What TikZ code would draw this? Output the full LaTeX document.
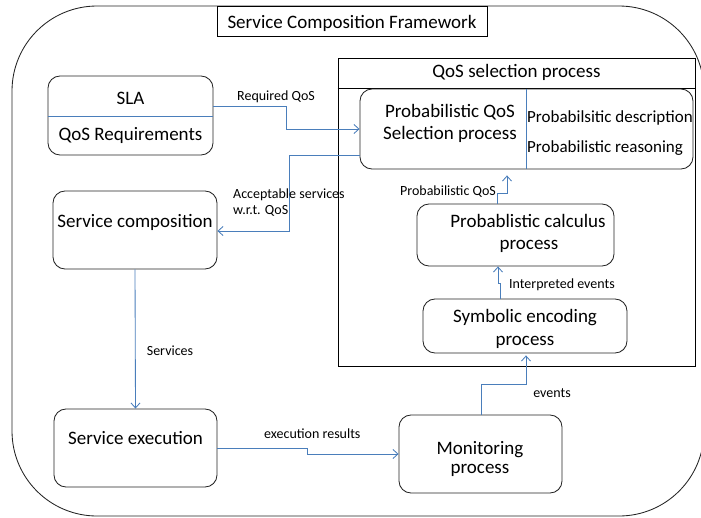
\documentclass[tikz,border=0pt]{standalone}
\usepackage{fontspec}
\setmainfont{Carlito}
\usetikzlibrary{arrows.meta}
\definecolor{flowblue}{RGB}{74,126,187}
\definecolor{edgegray}{RGB}{35,35,35}
\tikzset{
  rbox/.style={draw=edgegray, line width=0.85pt, rounded corners=12pt, inner sep=0pt},
  sbox/.style={draw=black, line width=0.85pt, inner sep=0pt},
  bigtxt/.style={font=\fontsize{19}{22}\selectfont, anchor=base, inner sep=0pt},
  midtxt/.style={font=\fontsize{17}{20}\selectfont, anchor=base west, inner sep=0pt},
  smalltxt/.style={font=\fontsize{14}{16}\selectfont, anchor=base, inner sep=0pt},
  flow/.style={draw=flowblue, line width=0.85pt, -{Straight Barb[length=5pt,width=9pt]}},
}
\begin{document}
\begin{tikzpicture}[x=1pt,y=-1pt]
\useasboundingbox (0,0) rectangle (701,517);
% outer frame
\draw[edgegray, line width=0.85pt, rounded corners=85pt] (12,6) rectangle (704,516);
% title
\node[sbox, fill=white, minimum width=270pt, minimum height=30pt] (title) at (352,21) {};
\node[bigtxt] (titletxt) at (352,28) {Service Composition Framework};
% QoS selection process container
\node[sbox, minimum width=357pt, minimum height=308pt] (qos) at (516.5,212) {};
\draw[black, line width=0.85pt] (qos.west |- 0,88) -- (qos.east |- 0,88);
\node[bigtxt] (qostxt) at (516.5,77) {QoS selection process};
% boxes
\node[rbox, minimum width=165pt, minimum height=79pt] (sla) at (130.5,115.5) {};
\draw[flowblue, line width=0.85pt] (sla.west |- 0,116) -- (sla.east |- 0,116);
\node[bigtxt] (slatxt) at (130.5,104) {SLA};
\node[bigtxt] (qosreq) at (130.5,140) {QoS Requirements};

\node[rbox, minimum width=333pt, minimum height=80pt] (pq) at (526.5,129) {};
\draw[flowblue, line width=0.85pt] (pq.north -| 526,0) -- (pq.south -| 526,0);
\node[bigtxt] (pq1) at (450,117) {Probabilistic QoS};
\node[bigtxt] (pq2) at (450,139) {Selection process};
\node[midtxt] (pq3) at (527,122) {Probabilsitic description};
\node[midtxt] (pq4) at (527,152) {Probabilistic reasoning};

\node[rbox, minimum width=197pt, minimum height=62pt] (pc) at (515.5,235) {};
\node[bigtxt] (pc1) at (528,227) {Probablistic calculus};
\node[bigtxt] (pc2) at (529,249) {process};

\node[rbox, minimum width=204pt, minimum height=54pt] (se) at (525,326) {};
\node[bigtxt] (se1) at (525,322) {Symbolic encoding};
\node[bigtxt] (se2) at (525,345) {process};

\node[rbox, minimum width=164pt, minimum height=78pt] (sc) at (135,230) {};
\node[bigtxt] (sctxt) at (135,227) {Service composition};

\node[rbox, minimum width=163pt, minimum height=78pt] (sx) at (135.5,448) {};
\node[bigtxt] (sxtxt) at (135.5,444) {Service execution};

\node[rbox, minimum width=163pt, minimum height=78pt] (mon) at (480.5,454) {};
\node[bigtxt] (mon1) at (480,454) {Monitoring};
\node[bigtxt] (mon2) at (480,473) {process};

% connectors
\draw[flow] (sla.east |- 0,106) -| (286,129) -- (pq.west |- 0,129);
\node[smalltxt] (l1) at (276,100) {Required QoS};

\draw[flow] (pq.west |- 0,155) -| (289,231) -- (sc.east |- 0,231);
\node[smalltxt, anchor=base west] (l2a) at (233,198) {Acceptable services};
\node[smalltxt, anchor=base west] (l2b) at (233,214) {w.r.t. QoS};

\draw[flow, shorten >=6pt] (pc.north -| 497,0) -- (497,193) -| (pq.south -| 507,0);
\node[smalltxt] (l3) at (448,195) {Probabilistic QoS};

\draw[flow] (se.north -| 500,0) -- (500,283) -- (498,283) -- (pc.south -| 498,0);
\node[smalltxt, anchor=base west] (l4) at (509,288) {Interpreted events};

\draw[flow, shorten >=2pt] (mon.north -| 481,0) |- (526,384) -- (se.south -| 526,0);
\node[smalltxt] (l5) at (552,397) {events};

\draw[flow] (sc.south) -- (sx.north);
\node[smalltxt] (l6) at (170,355) {Services};

\draw[flow] (sx.east |- 0,448) -| (307,454) -- (mon.west |- 0,454);
\node[smalltxt, anchor=base west] (l7) at (264,438) {execution results};
\end{tikzpicture}
\end{document}
